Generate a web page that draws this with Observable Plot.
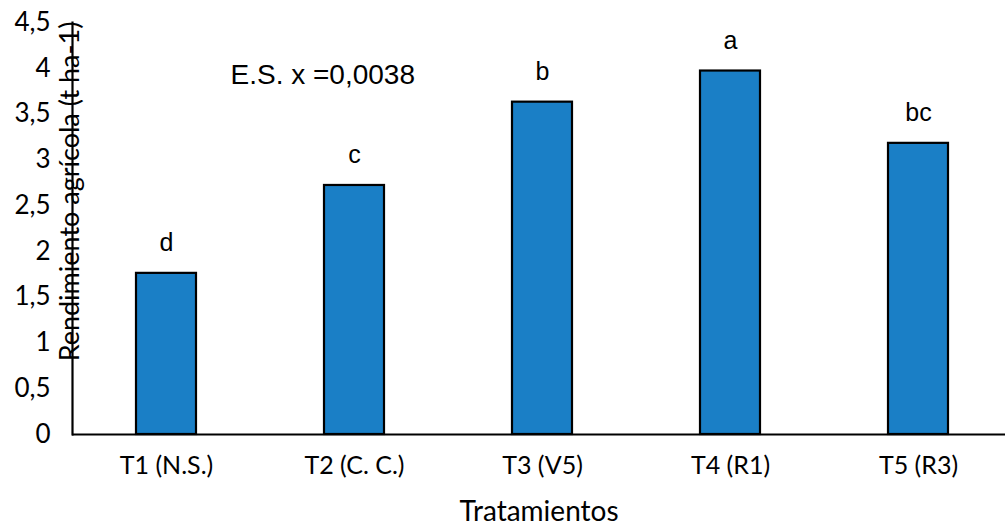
<!DOCTYPE html>
<html>
<head>
<meta charset="utf-8">
<script src="https://cdn.jsdelivr.net/npm/d3@7"></script>
<script src="https://cdn.jsdelivr.net/npm/@observablehq/plot@0.6"></script>
<style>
  html, body { margin: 0; padding: 0; background: #fff; }
  #chart svg { display: block; }
</style>
</head>
<body>
<div id="chart"></div>
<script>
const treatments = ["T1 (N.S.)", "T2 (C. C.)", "T3 (V5)", "T4 (R1)", "T5 (R3)"];
const yields = [1.76, 2.72, 3.63, 3.97, 3.18];
const letters = ["d", "c", "b", "a", "bc"];
const yTicks = [0, 0.5, 1, 1.5, 2, 2.5, 3, 3.5, 4, 4.5];
const annotation = ["E.S. x =0,0038"];
const yLabel = "Rendimiento agrícola (t ha-1)";
const xLabel = "Tratamientos";

const data = treatments.map((t, i) => ({t, v: yields[i], l: letters[i]}));
const comma = d => String(d).replace(".", ",");

const chart = Plot.plot({
  width: 1005,
  height: 529,
  marginLeft: 72,
  marginRight: 0,
  marginTop: 22,
  marginBottom: 95,
  style: {background: "#fff", color: "#000"},
  x: {domain: treatments, range: [72, 1012], paddingInner: 0.68, paddingOuter: 0.34, align: 0.5},
  y: {domain: [0, 4.5]},
  marks: [
    Plot.barY(data, {x: "t", y: "v", fill: "#1a7fc6", stroke: "#000", strokeWidth: 2.2}),
    Plot.text(data, {x: "t", y: "v", text: "l", dy: -30, fontSize: 25, fontFamily: "Liberation Sans, Arial, sans-serif", fill: "#000"}),
    Plot.ruleY([0], {stroke: "#000", strokeWidth: 2.2}),
    Plot.frame({anchor: "left", stroke: "#000", strokeWidth: 2.2}),
    Plot.axisY({ticks: yTicks, tickFormat: comma, tickSize: 0, tickPadding: 22, fontSize: 26, fontFamily: "Lato, sans-serif", label: null}),
    Plot.axisX({tickSize: 0, tickPadding: 22, fontSize: 25, fontFamily: "Lato, sans-serif", label: null}),
    Plot.text(annotation, {frameAnchor: "top-left", text: d => d, dx: 158, dy: 53, lineAnchor: "middle", fontSize: 28, fontFamily: "Liberation Sans, Arial, sans-serif", fill: "#000", textAnchor: "start"}),
    Plot.text([yLabel], {frameAnchor: "left", text: d => d, rotate: -90, dx: -2, dy: -37, textAnchor: "middle", lineAnchor: "middle", fontSize: 27, fontFamily: "Lato, sans-serif", fill: "#000"}),
    Plot.text([xLabel], {frameAnchor: "bottom", text: d => d, dy: 78, lineAnchor: "middle", fontSize: 28, fontFamily: "Lato, sans-serif", fill: "#000"})
  ]
});
document.getElementById("chart").appendChild(chart);
</script>
</body>
</html>
